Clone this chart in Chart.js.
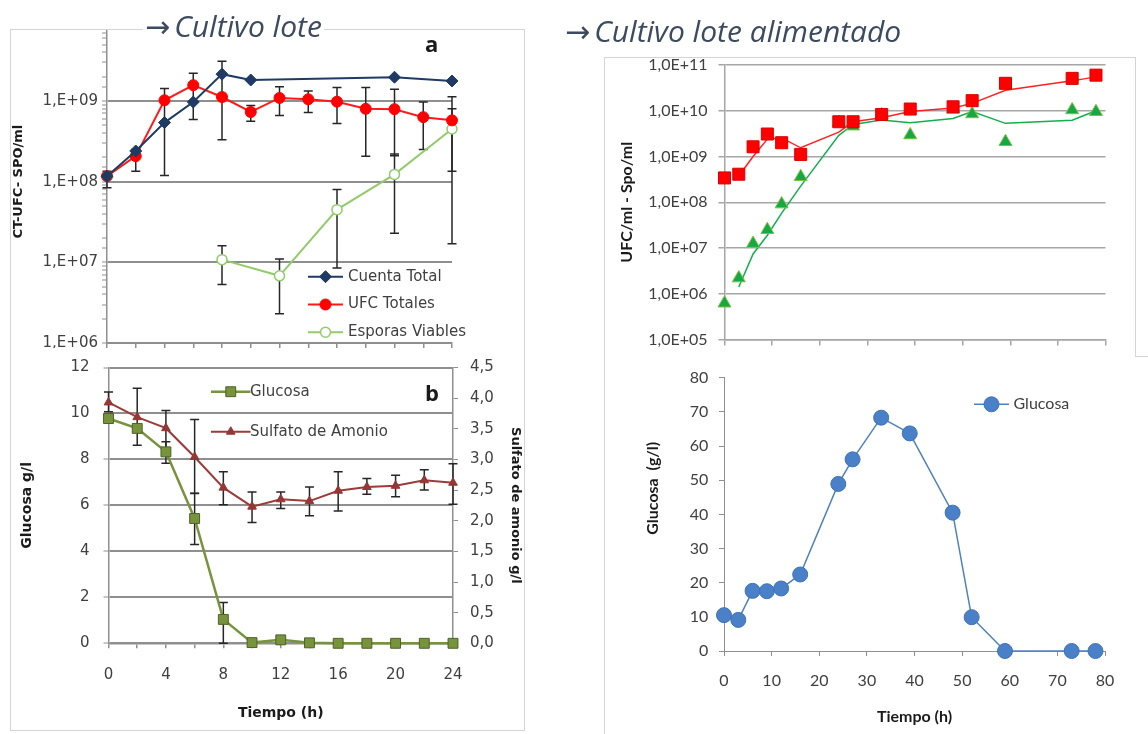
<!DOCTYPE html>
<html>
<head>
<meta charset="utf-8">
<script src="https://cdn.jsdelivr.net/npm/chart.js@4.4.1/dist/chart.umd.min.js"></script>
<style>
  body { margin: 0; width: 1148px; height: 734px; position: relative; overflow: hidden; background: #fff; }
  .frame { position: absolute; box-sizing: border-box; border: 1px solid #d4d4d4; }
  .rule { position: absolute; background: #d4d4d4; }
  .clip { position: absolute; overflow: hidden; }
  canvas { position: absolute; }
  .heading { position: absolute; font: italic 30px "Open Sans", sans-serif; line-height: 36px; color: #3d4b60; background: #fff; white-space: nowrap; padding: 0 2px; }
  .heading span { font: 30px "DejaVu Sans", sans-serif; font-style: normal; margin-right: 4px; }
</style>
</head>
<body>
<div class="frame" style="left:10px;top:29px;width:515px;height:702px"></div>
<div class="frame" style="left:604px;top:57px;width:532px;height:300px;border-bottom:none"></div>
<div class="rule" style="left:604px;top:356px;width:1px;height:378px"></div>
<div class="rule" style="left:1135px;top:356px;width:13px;height:1px"></div>

<div class="clip" id="clipLote" style="left:11px;top:30px;width:512px;height:318px">
  <canvas id="lote"></canvas>
</div>
<canvas id="loteGlucosa"></canvas>
<canvas id="alim"></canvas>
<canvas id="alimGlucosa"></canvas>

<div class="heading" style="left:143px;top:8px"><span>→</span>Cultivo lote</div>
<div class="heading" style="left:563px;top:13px"><span>→</span>Cultivo lote alimentado</div>

<script>
// ---- cultivo lote (a, b) ----
const batchHours = [0, 2, 4, 6, 8, 10, 12, 14, 16, 18, 20, 22, 24];

const cuentaTotal   = [1.17e8, 2.4e8, 5.4e8, 9.7e8, 2.15e9, 1.82e9, null, null, null, null, 1.97e9, null, 1.77e9];
const cuentaTotalLo = [null, null, 1.19e8, null, null, null, null, null, null, null, null, null, null];
const cuentaTotalHi = [null, null, 1.43e9, null, null, null, null, null, null, null, null, null, null];

const ufcTotales   = [1.17e8, 2.07e8, 1.02e9, 1.57e9, 1.12e9, 7.3e8, 1.09e9, 1.05e9, 9.8e8, 8.0e8, 7.9e8, 6.3e8, 5.75e8];
const ufcTotalesLo = [8.4e7, 1.35e8, null, 5.9e8, 3.3e8, 5.6e8, 6.6e8, 7.2e8, 5.25e8, 2.07e8, 2.1e8, 2.5e8, 1.35e8];
const ufcTotalesHi = [1.35e8, 2.5e8, null, 2.2e9, 3.1e9, 8.8e8, 1.5e9, 1.33e9, 1.47e9, 1.47e9, 1.4e9, 9.7e8, 1.13e9];

const esporasLote   = [null, null, null, null, 1.08e7, null, 6.8e6, null, 4.5e7, null, 1.23e8, null, 4.5e8];
const esporasLoteLo = [null, null, null, null, 5.3e6, null, 2.3e6, null, 8.5e6, null, 2.3e7, null, 1.7e7];
const esporasLoteHi = [null, null, null, null, 1.6e7, null, 1.1e7, null, 8.0e7, null, 2.2e8, null, 8.0e8];

const glucosaLote   = [9.78, 9.35, 8.33, 5.43, 1.04, 0.03, 0.15, 0.02, 0, 0, 0, 0, 0];
const glucosaLoteLo = [null, null, 7.83, 4.3, 0, null, null, null, null, null, null, null, null];
const glucosaLoteHi = [null, null, 8.77, 6.52, 1.78, null, null, null, null, null, null, null, null];

const sulfato   = [3.93, 3.69, 3.51, 3.04, 2.54, 2.23, 2.35, 2.32, 2.49, 2.55, 2.57, 2.66, 2.62];
const sulfatoLo = [3.78, 3.23, 3.13, 2.45, 2.26, 1.97, 2.20, 2.08, 2.16, 2.43, 2.39, 2.50, 2.27];
const sulfatoHi = [4.10, 4.16, 3.80, 3.65, 2.80, 2.47, 2.47, 2.55, 2.80, 2.69, 2.74, 2.83, 2.93];

// ---- cultivo lote alimentado ----
const feedHours  = [0, 3, 6, 9, 12, 16, 24, 27, 33, 39, 48, 52, 59, 73, 78];
const ufcFed     = [3.4e8, 4.1e8, 1.63e9, 3.1e9, 2.0e9, 1.11e9, 5.75e9, 5.75e9, 8.3e9, 1.09e10, 1.22e10, 1.66e10, 3.98e10, 5.1e10, 6.0e10];
const esporasFed = [6.2e5, 2.2e6, 1.25e7, 2.5e7, 9.1e7, 3.6e8, 5.5e9, 4.6e9, 8.1e9, 2.95e9, 1.07e10, 8.5e9, 2.1e9, 1.04e10, 9.5e9];
const glucosaFed = [10.5, 9.1, 17.6, 17.5, 18.3, 22.4, 48.9, 56.1, 68.3, 63.7, 40.5, 9.9, 0, 0, 0];

// trend lines as they appear in the picture
const trendHours   = [3, 6, 9, 12, 16, 24, 27, 33, 39, 48, 52, 59, 73, 78];
const ufcTrend     = [3.75e8, 1.0e9, 2.4e9, 2.55e9, 1.55e9, 3.4e9, 5.75e9, 7.0e9, 9.6e9, 1.15e10, 1.45e10, 2.8e10, 4.5e10, 5.5e10];
const esporasTrend = [1.4e6, 7.4e6, 1.9e7, 5.8e7, 2.25e8, 2.9e9, 5.0e9, 6.3e9, 5.5e9, 6.8e9, 9.6e9, 5.3e9, 6.2e9, 1.0e10];

const GRID = '#8f8f8f';
const GRID_R = '#a6a6a6';
const INK = '#404040';
const DARK = '#1a1a1a';
const CLEAR = 'rgba(0,0,0,0)';

const isDecade = v => Math.abs(Math.log10(v) - Math.round(Math.log10(v))) < 1e-6;
const sci = (v, mant) => mant + 'E+' + String(Math.round(Math.log10(v))).padStart(2, '0');
const comma = v => v.toFixed(1).replace('.', ',');
const pts = (xs, ys) => xs.map((x, i) => ({ x: x, y: ys[i] }));

function mark(ctx, style, r, x, y) {
  ctx.beginPath();
  if (style === 'rect') {
    const s = r * Math.SQRT1_2;
    ctx.rect(x - s, y - s, 2 * s, 2 * s);
  } else if (style === 'rectRot') {
    ctx.moveTo(x - r, y); ctx.lineTo(x, y - r); ctx.lineTo(x + r, y); ctx.lineTo(x, y + r); ctx.closePath();
  } else if (style === 'triangle') {
    ctx.moveTo(x, y - r); ctx.lineTo(x + 0.866 * r, y + 0.5 * r); ctx.lineTo(x - 0.866 * r, y + 0.5 * r); ctx.closePath();
  } else {
    ctx.arc(x, y, r, 0, Math.PI * 2);
  }
  ctx.fill();
  ctx.stroke();
}

// error bars, from errLo / errHi on the dataset
const whiskers = {
  id: 'whiskers',
  beforeDatasetsDraw(chart, args, o) {
    const ctx = chart.ctx;
    ctx.save();
    ctx.strokeStyle = o.color || '#262626';
    ctx.lineWidth = o.width || 1.5;
    const cap = o.cap || 4;
    chart.data.datasets.forEach((ds, di) => {
      if (!ds.errLo) return;
      const meta = chart.getDatasetMeta(di);
      const ys = chart.scales[meta.yAxisID];
      meta.data.forEach((pt, i) => {
        const lo = ds.errLo[i], hi = ds.errHi[i];
        if (lo == null || hi == null) return;
        const x = pt.x, a = ys.getPixelForValue(lo), b = ys.getPixelForValue(hi);
        ctx.beginPath();
        ctx.moveTo(x, a); ctx.lineTo(x, b);
        ctx.moveTo(x - cap, a); ctx.lineTo(x + cap, a);
        ctx.moveTo(x - cap, b); ctx.lineTo(x + cap, b);
        ctx.stroke();
      });
    });
    ctx.restore();
  }
};

// legend drawn inside the plot
const keyBox = {
  id: 'keyBox',
  afterDraw(chart, args, o) {
    const ctx = chart.ctx;
    ctx.save();
    ctx.font = o.font;
    ctx.textBaseline = 'middle';
    chart.data.datasets.filter(d => d.inKey).forEach((d, k) => {
      const y = o.y + k * o.dy;
      let mx = o.x;
      if (o.lineLen) {
        ctx.strokeStyle = d.borderColor;
        ctx.lineWidth = d.borderWidth;
        ctx.beginPath(); ctx.moveTo(o.x, y); ctx.lineTo(o.x + o.lineLen, y); ctx.stroke();
        mx = o.x + o.lineLen / 2;
      }
      ctx.fillStyle = d.pointBackgroundColor;
      ctx.strokeStyle = d.pointBorderColor;
      ctx.lineWidth = d.pointBorderWidth;
      mark(ctx, d.pointStyle, d.pointRadius, mx, y);
      ctx.fillStyle = o.color;
      ctx.fillText(d.label, o.textX, y);
    });
    ctx.restore();
  }
};

const notes = {
  id: 'notes',
  afterDraw(chart, args, o) {
    const ctx = chart.ctx;
    (o.items || []).forEach(n => {
      ctx.save();
      ctx.translate(n.x, n.y);
      ctx.rotate(n.rot || 0);
      ctx.font = n.font;
      ctx.fillStyle = n.color;
      ctx.textAlign = 'center';
      ctx.textBaseline = 'middle';
      ctx.fillText(n.text, 0, 0);
      ctx.restore();
    });
  }
};

// canvas box and plot area, both in page pixels
function place(id, box, origin) {
  const c = document.getElementById(id);
  c.width = box[2]; c.height = box[3];
  c.style.left = (box[0] - origin[0]) + 'px';
  c.style.top = (box[1] - origin[1]) + 'px';
  return c;
}
function fit(box, area, withRight) {
  return {
    padding: { left: 0, top: area[1] - box[1], right: withRight ? 0 : box[0] + box[2] - area[2], bottom: 0 },
    yWidth: area[0] - box[0],
    xHeight: box[1] + box[3] - area[3],
    rWidth: box[0] + box[2] - area[2]
  };
}

Chart.defaults.animation = false;
Chart.defaults.events = [];
Chart.defaults.plugins.legend.display = false;
Chart.defaults.plugins.tooltip.enabled = false;

const DV = 'DejaVu Sans';
const LT = 'Lato';

// ---------- a ----------
const boxA = [11, -15, 512, 390];
const fa = fit(boxA, [107, 20.3, 452, 343]);
new Chart(place('lote', boxA, [11, 30]), {
  type: 'line',
  data: {
    labels: batchHours,
    datasets: [
      { label: 'Cuenta Total', data: cuentaTotal, errLo: cuentaTotalLo, errHi: cuentaTotalHi, inKey: true, spanGaps: true, clip: false,
        borderColor: '#1f3b64', borderWidth: 2, pointStyle: 'rectRot', pointRadius: 6,
        pointBackgroundColor: '#1f3b64', pointBorderColor: '#1f3b64', pointBorderWidth: 1 },
      { label: 'UFC Totales', data: ufcTotales, errLo: ufcTotalesLo, errHi: ufcTotalesHi, inKey: true, clip: false,
        borderColor: '#ff1a1a', borderWidth: 2, pointStyle: 'circle', pointRadius: 5.5,
        pointBackgroundColor: '#ff0000', pointBorderColor: '#ff0000', pointBorderWidth: 1 },
      { label: 'Esporas Viables', data: esporasLote, errLo: esporasLoteLo, errHi: esporasLoteHi, inKey: true, spanGaps: true, clip: false,
        borderColor: '#92cc6a', borderWidth: 2, pointStyle: 'circle', pointRadius: 5,
        pointBackgroundColor: '#ffffff', pointBorderColor: '#92cc6a', pointBorderWidth: 1.5 }
    ]
  },
  options: {
    responsive: false,
    layout: { padding: fa.padding },
    plugins: {
      whiskers: { color: '#262626', width: 1.5, cap: 4.5 },
      keyBox: { x: 297, lineLen: 35, textX: 337, y: 291.7, dy: 27.8, font: '15px "DejaVu Sans"', color: INK },
      notes: { items: [{ text: 'a', x: 420.7, y: 61, font: 'bold 22px "Open Sans"', color: DARK }] }
    },
    scales: {
      x: {
        type: 'category', offset: false,
        ticks: { display: false, autoSkip: false },
        grid: { drawOnChartArea: false, color: GRID, tickLength: 5, lineWidth: 1.5 },
        border: { color: GRID, width: 1.5 },
        afterFit: s => { s.height = fa.xHeight; }
      },
      y: {
        type: 'logarithmic', min: 1e6, max: 1e10,
        ticks: { autoSkip: false, padding: 4, color: INK, font: { family: DV, size: 15 },
          callback: v => isDecade(v) ? sci(v, '1,') : '' },
        grid: { color: c => (c.tick && isDecade(c.tick.value)) ? GRID : CLEAR, tickColor: GRID,
          lineWidth: 2, tickWidth: 1, tickLength: 5 },
        border: { color: GRID, width: 1.5 },
        title: { display: true, text: 'CT-UFC- SPO/ml', color: DARK, padding: 0,
          font: { family: DV, size: 13, weight: 'bold' } },
        afterFit: s => { s.width = fa.yWidth; }
      }
    }
  },
  plugins: [whiskers, keyBox, notes]
});

// ---------- b ----------
const boxB = [11, 330, 512, 400];
const fb = fit(boxB, [108.5, 367.5, 453, 643.3], true);
new Chart(place('loteGlucosa', boxB, [0, 0]), {
  type: 'line',
  data: {
    labels: batchHours,
    datasets: [
      { label: 'Glucosa', data: glucosaLote, errLo: glucosaLoteLo, errHi: glucosaLoteHi, inKey: true, yAxisID: 'y', clip: false,
        borderColor: '#77933c', borderWidth: 2.5, pointStyle: 'rect', pointRadius: 7,
        pointBackgroundColor: '#77933c', pointBorderColor: '#4f6228', pointBorderWidth: 1 },
      { label: 'Sulfato de Amonio', data: sulfato, errLo: sulfatoLo, errHi: sulfatoHi, inKey: true, yAxisID: 'y1', clip: false,
        borderColor: '#9b3b3a', borderWidth: 2, pointStyle: 'triangle', pointRadius: 5,
        pointBackgroundColor: '#953735', pointBorderColor: '#953735', pointBorderWidth: 1 }
    ]
  },
  options: {
    responsive: false,
    layout: { padding: fb.padding },
    plugins: {
      whiskers: { color: '#262626', width: 1.5, cap: 4.5 },
      keyBox: { x: 200, lineLen: 39.5, textX: 239, y: 61.7, dy: 40, font: '15px "DejaVu Sans"', color: INK },
      notes: { items: [{ text: 'b', x: 421, y: 65, font: 'bold 22px "Open Sans"', color: DARK }] }
    },
    scales: {
      x: {
        type: 'category', offset: false,
        ticks: { autoSkip: false, maxRotation: 0, padding: 18, color: INK, font: { family: DV, size: 15 },
          callback: (v, i) => batchHours[i] % 4 === 0 ? String(batchHours[i]) : '' },
        grid: { drawOnChartArea: false, color: GRID, tickLength: 5, lineWidth: 1.5 },
        border: { color: GRID, width: 1.5 },
        title: { display: true, text: 'Tiempo (h)', color: DARK, padding: { top: 0, bottom: 8.6 },
          font: { family: DV, size: 14, weight: 'bold' } },
        afterFit: s => { s.height = fb.xHeight; }
      },
      y: {
        position: 'left', min: 0, max: 12,
        ticks: { stepSize: 2, padding: 14, color: INK, font: { family: DV, size: 15 } },
        grid: { color: GRID, lineWidth: 2, tickWidth: 1, tickLength: 5 },
        border: { color: GRID, width: 1.5 },
        title: { display: true, text: 'Glucosa g/l', color: DARK, padding: { top: 8, bottom: 0 },
          font: { family: DV, size: 14, weight: 'bold' } },
        afterFit: s => { s.width = fb.yWidth; }
      },
      y1: {
        position: 'right', min: 0, max: 4.5,
        ticks: { stepSize: 0.5, padding: 12, color: INK, font: { family: DV, size: 15 }, callback: v => comma(v) },
        grid: { drawOnChartArea: false, color: GRID, tickLength: 5, lineWidth: 1 },
        border: { color: GRID, width: 1.5 },
        title: { display: true, text: 'Sulfato de amonio g/l', color: DARK, padding: 0,
          font: { family: DV, size: 13, weight: 'bold' } },
        afterFit: s => { s.width = fb.rWidth; }
      }
    }
  },
  plugins: [whiskers, keyBox, notes]
});

// ---------- alimentado: UFC / esporas ----------
const boxC = [605, 30, 529, 345];
const fc = fit(boxC, [724.5, 65, 1105.5, 339.5]);
new Chart(place('alim', boxC, [0, 0]), {
  type: 'line',
  data: {
    datasets: [
      { label: 'UFC', data: pts(feedHours, ufcFed), showLine: false, inKey: true, clip: false,
        borderColor: '#ff0000', borderWidth: 0, pointStyle: 'rect', pointRadius: 8.5,
        pointBackgroundColor: '#ff0000', pointBorderColor: '#dd0000', pointBorderWidth: 1 },
      { label: 'Esporas Viables', data: pts(feedHours, esporasFed), showLine: false, inKey: true, clip: false,
        borderColor: '#16a844', borderWidth: 0, pointStyle: 'triangle', pointRadius: 7.5,
        pointBackgroundColor: '#16a844', pointBorderColor: '#7cc242', pointBorderWidth: 1 },
      { label: 'UFC (media móvil)', data: pts(trendHours, ufcTrend), clip: false,
        borderColor: '#ff2020', borderWidth: 1.5, pointRadius: 0 },
      { label: 'Esporas (media móvil)', data: pts(trendHours, esporasTrend), clip: false,
        borderColor: '#10b050', borderWidth: 1.5, pointRadius: 0 }
    ]
  },
  options: {
    responsive: false,
    layout: { padding: fc.padding },
    plugins: {
      keyBox: { x: 957, lineLen: 0, textX: 967, y: 156.7, dy: 35.6, font: '16px Lato', color: INK }
    },
    scales: {
      x: {
        type: 'linear', min: 0, max: 80,
        ticks: { display: false, stepSize: 10 },
        grid: { drawOnChartArea: false, color: GRID_R, tickLength: 6, lineWidth: 1.5 },
        border: { color: GRID_R, width: 1.5 },
        afterFit: s => { s.height = fc.xHeight; }
      },
      y: {
        type: 'logarithmic', min: 1e5, max: 1e11,
        ticks: { autoSkip: false, padding: 11, color: INK, font: { family: LT, size: 16 },
          callback: v => isDecade(v) ? sci(v, '1,0') : '' },
        grid: { color: c => (c.tick && isDecade(c.tick.value)) ? GRID_R : CLEAR,
          tickColor: c => (c.tick && isDecade(c.tick.value)) ? GRID_R : CLEAR,
          lineWidth: 1.5, tickLength: 6 },
        border: { color: GRID_R, width: 1.5 },
        title: { display: true, text: 'UFC/ml - Spo/ml', color: DARK, padding: { top: 12, bottom: 0 },
          font: { family: LT, size: 16, weight: 'bold' } },
        afterFit: s => { s.width = fc.yWidth; }
      }
    }
  },
  plugins: [keyBox]
});

// ---------- alimentado: glucosa ----------
const boxD = [605, 345, 529, 389];
const fd = fit(boxD, [724, 377.7, 1105, 651]);
new Chart(place('alimGlucosa', boxD, [0, 0]), {
  type: 'line',
  data: {
    datasets: [
      { label: 'Glucosa', data: pts(feedHours, glucosaFed), inKey: true, clip: false,
        borderColor: '#4f81bd', borderWidth: 1.5, pointStyle: 'circle', pointRadius: 7.5,
        pointBackgroundColor: '#4a80c8', pointBorderColor: '#3f72b3', pointBorderWidth: 1 }
    ]
  },
  options: {
    responsive: false,
    layout: { padding: fd.padding },
    plugins: {
      keyBox: { x: 369, lineLen: 35, textX: 408.5, y: 59.3, dy: 0, font: '16px Lato', color: INK },
      notes: { items: [{ text: 'Glucosa  (g/l)', x: 47.4, y: 143.3, rot: -Math.PI / 2, font: 'bold 16px Lato', color: DARK }] }
    },
    scales: {
      x: {
        type: 'linear', min: 0, max: 80,
        ticks: { stepSize: 10, padding: 15.4, maxRotation: 0, color: INK, font: { family: LT, size: 16 } },
        grid: { drawOnChartArea: false, color: GRID, tickLength: 5, lineWidth: 1 },
        border: { color: GRID, width: 1 },
        title: { display: true, text: 'Tiempo (h)', color: DARK, padding: { top: 0, bottom: 7.7 },
          font: { family: LT, size: 16, weight: 'bold' } },
        afterFit: s => { s.height = fd.xHeight; }
      },
      y: {
        min: 0, max: 80,
        ticks: { stepSize: 10, padding: 10.6, color: INK, font: { family: LT, size: 16 } },
        grid: { drawOnChartArea: false, color: GRID, tickLength: 5, lineWidth: 1 },
        border: { color: GRID, width: 1 },
        afterFit: s => { s.width = fd.yWidth; }
      }
    }
  },
  plugins: [keyBox, notes]
});
</script>
</body>
</html>
